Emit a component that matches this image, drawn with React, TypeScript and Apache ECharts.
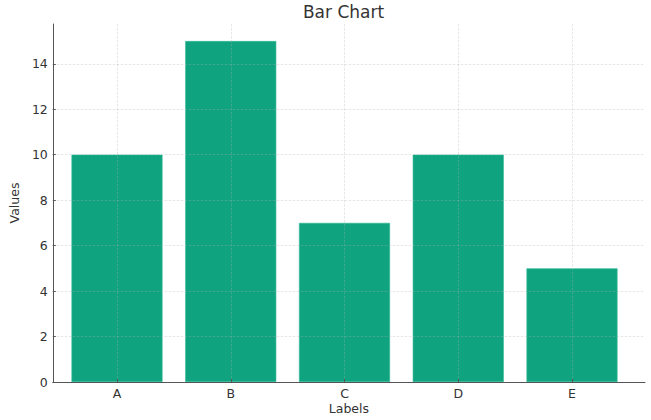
import React, { useEffect, useRef } from "react";
import * as echarts from "echarts";

const categories = ["A", "B", "C", "D", "E"];
const values = [10, 15, 7, 10, 5];
const yMax = 15.75;
const yInterval = 2;

const FONT = "DejaVu Sans";
const GRID_LINE = {
  show: true,
  lineStyle: { color: "rgba(176,176,176,0.45)", width: 0.7, type: [2.5, 1.5] as any },
};

export default function App() {
  const ref = useRef<HTMLDivElement>(null);
  useEffect(() => {
    document.body.style.margin = "0";
    const chart = echarts.init(ref.current!, undefined, { renderer: "svg" });
    chart.setOption({
      animation: false,
      backgroundColor: "#ffffff",
      textStyle: { fontFamily: FONT },
      title: {
        text: "Bar Chart",
        left: 338.5,
        top: 0,
        textAlign: "center",
        padding: [3, 5, 5, 5],
        textStyle: { fontFamily: FONT, fontSize: 17, fontWeight: "normal", color: "#333333" },
      },
      grid: [
        { left: 117, right: 79, top: 24, bottom: 38 },
        { left: 44, right: 6, top: 24, bottom: 38 },
      ],
      xAxis: [
        {
          type: "category",
          gridIndex: 0,
          data: categories,
          boundaryGap: false,
          z: 3,
          axisLine: { show: false },
          axisTick: { show: true, inside: true, length: 3, lineStyle: { color: "#555555" } },
          axisLabel: { color: "#333333", fontSize: 12.5, margin: 5, fontFamily: FONT },
          splitLine: GRID_LINE,
        },
        {
          type: "value",
          gridIndex: 1,
          min: 0,
          max: 1,
          z: 3,
          name: "Labels",
          nameLocation: "middle",
          nameGap: 20,
          nameTextStyle: { color: "#333333", fontSize: 12.5, fontFamily: FONT },
          axisLine: { show: true, onZero: false, lineStyle: { color: "#555555", width: 1 } },
          axisTick: { show: false },
          axisLabel: { show: false },
          splitLine: { show: false },
        },
      ],
      yAxis: [
        {
          type: "value",
          gridIndex: 0,
          min: 0,
          max: yMax,
          show: false,
          splitLine: { show: false },
        },
        {
          type: "value",
          gridIndex: 1,
          min: 0,
          max: yMax,
          interval: yInterval,
          z: 3,
          name: "Values",
          nameLocation: "middle",
          nameGap: 27,
          nameTextStyle: { color: "#333333", fontSize: 12.5, fontFamily: FONT },
          axisLine: { show: true, lineStyle: { color: "#555555", width: 1 } },
          axisTick: { show: true, inside: true, length: 3, lineStyle: { color: "#555555" } },
          axisLabel: { color: "#333333", fontSize: 12.5, margin: 5, fontFamily: FONT, showMaxLabel: false },
          splitLine: { ...GRID_LINE, showMinLine: false, showMaxLine: false },
        },
      ],
      series: [
        {
          type: "bar",
          xAxisIndex: 0,
          yAxisIndex: 0,
          data: values,
          barWidth: "80%",
          clip: false,
          itemStyle: { color: "#10a37f", borderColor: "#2cb895", borderWidth: 0.6 },
        },
      ],
    });
    return () => chart.dispose();
  }, []);
  return <div ref={ref} style={{ width: 651, height: 420 }} />;
}
